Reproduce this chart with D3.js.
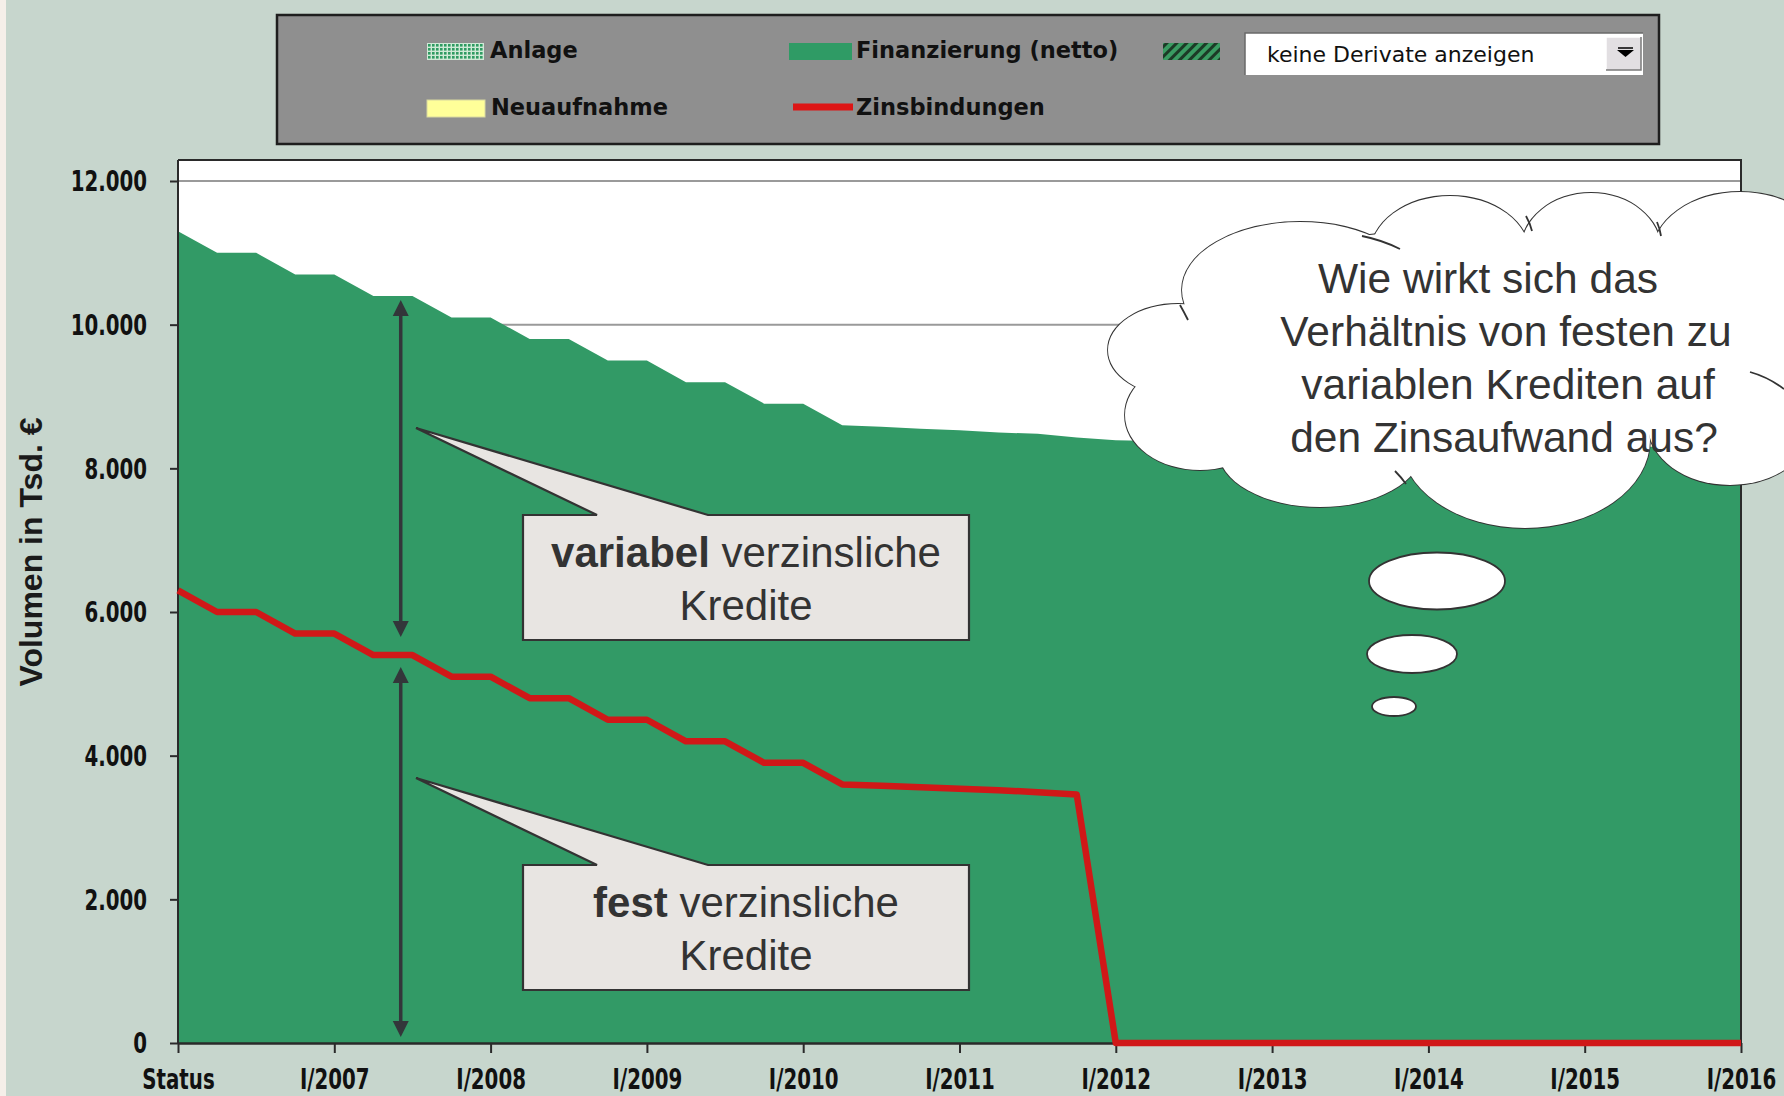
<!DOCTYPE html>
<html><head><meta charset="utf-8">
<script src="https://cdn.jsdelivr.net/npm/d3@7"></script>
<style>
html,body{margin:0;padding:0;background:#c7d6cd;}
svg{display:block;}
</style></head><body>
<svg id="chart" width="1784" height="1096"></svg>
<script>
// ---- data (quarterly, index 0 = Status, 4 = I/2007, ... 40 = I/2016) ----
const finanzierung = [11300, 11000, 11000, 10700, 10700, 10400, 10400, 10100, 10100, 9800,
  9800, 9500, 9500, 9200, 9200, 8900, 8900, 8600, 8580, 8550,
  8530, 8500, 8480, 8430, 8390, 8380, 8380, 8370, 8360, 8360,
  8350, 8340, 8340, 8330, 8320, 8320, 8310, 8300, 8300, 8290, 8280];
const zinsbindungen = [6300, 6000, 6000, 5700, 5700, 5400, 5400, 5100, 5100, 4800,
  4800, 4500, 4500, 4200, 4200, 3900, 3900, 3600, 3580, 3560,
  3540, 3520, 3490, 3460, 0, 0, 0, 0, 0, 0,
  0, 0, 0, 0, 0, 0, 0, 0, 0, 0, 0];
const xTickPositions = [0, 4, 8, 12, 16, 20, 24, 28, 32, 36, 40];
const xTickLabels = ["Status", "I/2007", "I/2008", "I/2009", "I/2010", "I/2011", "I/2012", "I/2013", "I/2014", "I/2015", "I/2016"];
const yTickValues = [0, 2000, 4000, 6000, 8000, 10000, 12000];
const legendRow1 = ["Anlage", "Finanzierung (netto)"];
const legendRow2 = ["Neuaufnahme", "Zinsbindungen"];
const dropdownText = "keine Derivate anzeigen";
const yTitle = "Volumen in Tsd. €";
const cloudLines = ["Wie wirkt sich das", "Verhältnis von festen zu", "variablen Krediten auf", "den Zinsaufwand aus?"];

const svg = d3.select("#chart");
const W = 1784, H = 1096;
const pL = 178, pR = 1741, pT = 160, yTopPx = 181, pB = 1043;

const x = d3.scaleLinear().domain([0, 40]).range([pL, pR]);
const y = d3.scaleLinear().domain([0, 12000]).range([pB, yTopPx]);
const de = d3.formatLocale({decimal: ",", thousands: ".", grouping: [3], currency: ["", "€"]});
const fmt = de.format(",.0f");

const narrow = "'DejaVu Sans Condensed','Liberation Sans Narrow',sans-serif";
const arial = "'Liberation Sans',Arial,Helvetica,sans-serif";
const dv = "'DejaVu Sans',Verdana,sans-serif";
const tickScaleY = 1.25;

// background bits
svg.append("rect").attr("x", 0).attr("y", 0).attr("width", W).attr("height", H).attr("fill", "#c7d6cd");
svg.append("rect").attr("x", 0).attr("y", 0).attr("width", 6).attr("height", H).attr("fill", "#f5efe9");

// defs: patterns
const defs = svg.append("defs");
const pd = defs.append("pattern").attr("id", "dots").attr("width", 4).attr("height", 4).attr("patternUnits", "userSpaceOnUse");
pd.append("rect").attr("width", 4).attr("height", 4).attr("fill", "#cfe9d6");
pd.append("rect").attr("width", 2.6).attr("height", 2.6).attr("fill", "#2f9b62");
const ph = defs.append("pattern").attr("id", "hatch").attr("width", 7).attr("height", 7)
  .attr("patternUnits", "userSpaceOnUse").attr("patternTransform", "rotate(45)");
ph.append("rect").attr("width", 7).attr("height", 7).attr("fill", "#3a9c62");
ph.append("rect").attr("width", 3).attr("height", 7).attr("fill", "#1c3a26");

// ---- legend box ----
const lg = svg.append("g");
lg.append("rect").attr("x", 277).attr("y", 15).attr("width", 1382).attr("height", 129)
  .attr("fill", "#8f8f8f").attr("stroke", "#1e1e1e").attr("stroke-width", 2.5);
function legText(t, lx, ly) {
  lg.append("text").attr("x", lx).attr("y", ly).text(t)
    .attr("font-family", dv).attr("font-size", 22.5)
    .attr("font-weight", "bold").attr("fill", "#111");
}
lg.append("rect").attr("x", 427).attr("y", 43).attr("width", 57).attr("height", 17).attr("fill", "url(#dots)");
legText(legendRow1[0], 490, 58);
lg.append("rect").attr("x", 789).attr("y", 43).attr("width", 63).attr("height", 17).attr("fill", "#2f9b65");
legText(legendRow1[1], 856, 58);
lg.append("rect").attr("x", 1163).attr("y", 43).attr("width", 57).attr("height", 17).attr("fill", "url(#hatch)");
lg.append("rect").attr("x", 427).attr("y", 100).attr("width", 58).attr("height", 17).attr("fill", "#ffff99")
  .attr("stroke", "#d8d8a0").attr("stroke-width", 1);
legText(legendRow2[0], 491, 115);
lg.append("line").attr("x1", 793).attr("x2", 853).attr("y1", 107).attr("y2", 107)
  .attr("stroke", "#dd1515").attr("stroke-width", 7);
legText(legendRow2[1], 856, 115);
// dropdown
lg.append("rect").attr("x", 1245).attr("y", 33).attr("width", 398).attr("height", 42).attr("fill", "#ffffff");
lg.append("path").attr("d", "M1245,75 L1245,33 L1643,33").attr("fill", "none").attr("stroke", "#6a6a6a").attr("stroke-width", 1.5);
lg.append("rect").attr("x", 1606).attr("y", 37).attr("width", 35).attr("height", 33).attr("fill", "#e2dfe2");
lg.append("path").attr("d", "M1606,70 L1606,37 L1641,37").attr("fill", "none").attr("stroke", "#ffffff").attr("stroke-width", 1.5);
lg.append("path").attr("d", "M1606,70 L1641,70 L1641,37").attr("fill", "none").attr("stroke", "#7a7a7a").attr("stroke-width", 1.5);
lg.append("path").attr("d", "M1617,50 L1634,50 L1625.5,57 Z").attr("fill", "#000");
lg.append("line").attr("x1", 1618).attr("x2", 1633).attr("y1", 48).attr("y2", 48).attr("stroke", "#000").attr("stroke-width", 1.5);
lg.append("text").attr("x", 1267).attr("y", 62).text(dropdownText)
  .attr("font-family", dv).attr("font-size", 22).attr("fill", "#111");

// ---- plot area ----
svg.append("rect").attr("x", pL).attr("y", pT).attr("width", pR - pL).attr("height", pB - pT).attr("fill", "#ffffff");
svg.append("g").selectAll("line").data(yTickValues.filter(v => v > 0)).join("line")
  .attr("x1", pL).attr("x2", pR).attr("y1", d => y(d)).attr("y2", d => y(d))
  .attr("stroke", "#9a9a9a").attr("stroke-width", 2);

const area = d3.area().x((d, i) => x(i)).y0(y(0)).y1(d => y(d));
svg.append("path").datum(finanzierung).attr("d", area).attr("fill", "#329a66");

// frame (top + right)
svg.append("path").attr("d", `M${pL},${pT} L${pR},${pT} L${pR},${pB}`)
  .attr("fill", "none").attr("stroke", "#2a2a2a").attr("stroke-width", 2);

// axes
const yAxis = svg.append("g").attr("transform", `translate(${pL},0)`)
  .call(d3.axisLeft(y).tickValues(yTickValues).tickFormat(fmt).tickSize(8).tickSizeOuter(0).tickPadding(23));
yAxis.select(".domain").remove();
yAxis.append("line").attr("x1", 0).attr("x2", 0).attr("y1", pT).attr("y2", pB).attr("stroke", "#2a2a2a").attr("stroke-width", 2);
yAxis.selectAll(".tick line").attr("stroke", "#2a2a2a").attr("stroke-width", 2);
yAxis.selectAll(".tick text").attr("dy", "0.36em").attr("transform", `scale(1,${tickScaleY})`)
  .attr("font-family", narrow).attr("font-size", 22).attr("font-weight", "bold").attr("fill", "#111");

const xAxis = svg.append("g").attr("transform", `translate(0,${pB})`)
  .call(d3.axisBottom(x).tickValues(xTickPositions).tickFormat((d, i) => xTickLabels[i]).tickSize(10).tickSizeOuter(0));
xAxis.select(".domain").attr("stroke", "#2a2a2a").attr("stroke-width", 2.5);
xAxis.selectAll(".tick line").attr("stroke", "#2a2a2a").attr("stroke-width", 2);
xAxis.selectAll(".tick text").attr("y", 46 / tickScaleY).attr("dy", 0).attr("transform", `scale(1,${tickScaleY})`)
  .attr("font-family", narrow).attr("font-size", 22).attr("font-weight", "bold").attr("fill", "#111");

// red line
const line = d3.line().x((d, i) => x(i)).y(d => y(d));
svg.append("path").datum(zinsbindungen).attr("d", line).attr("fill", "none")
  .attr("stroke", "#d01818").attr("stroke-width", 6.5).attr("stroke-linejoin", "round");

// y title
svg.append("text").attr("transform", "translate(42,552) rotate(-90)").attr("text-anchor", "middle")
  .attr("font-family", arial).attr("font-size", 32).attr("font-weight", "bold").attr("fill", "#1a1a1a").text(yTitle);

// ---- double arrows ----
const arrowT = 5.7;
const ax = x(arrowT);
function arrow(y1, y2) {
  const g = svg.append("g").attr("fill", "#33363a");
  const hl = 16, hw = 8;
  g.append("line").attr("x1", ax).attr("x2", ax).attr("y1", y1 + hl - 2).attr("y2", y2 - hl + 2)
    .attr("stroke", "#33363a").attr("stroke-width", 3.5);
  g.append("path").attr("d", `M${ax},${y1} L${ax + hw},${y1 + hl} L${ax - hw},${y1 + hl} Z`);
  g.append("path").attr("d", `M${ax},${y2} L${ax + hw},${y2 - hl} L${ax - hw},${y2 - hl} Z`);
}
arrow(y(finanzierung[6]) + 4, y(zinsbindungen[6]) - 18);
arrow(y(zinsbindungen[6]) + 12, y(0) - 6);

// ---- callouts ----
function callout(dy, boldWord) {
  const bx0 = 523, bx1 = 969, by0 = 515 + dy, by1 = 640 + dy;
  const tipX = 416, tipY = 428 + dy;
  svg.append("path").attr("d",
    `M${bx0},${by0} L597,${by0} L${tipX},${tipY} L708,${by0} L${bx1},${by0} L${bx1},${by1} L${bx0},${by1} Z`)
    .attr("fill", "#e8e5e2").attr("stroke", "#333").attr("stroke-width", 2.2).attr("stroke-linejoin", "miter");
  const t = svg.append("text").attr("x", (bx0 + bx1) / 2).attr("y", 567 + dy).attr("text-anchor", "middle")
    .attr("font-family", arial).attr("font-size", 42).attr("fill", "#333");
  t.append("tspan").attr("font-weight", "bold").text(boldWord);
  t.append("tspan").text(" verzinsliche");
  svg.append("text").attr("x", (bx0 + bx1) / 2).attr("y", 620 + dy).attr("text-anchor", "middle")
    .attr("font-family", arial).attr("font-size", 42).attr("fill", "#333").text("Kredite");
}
callout(0, "variabel");
callout(350, "fest");

// ---- cloud ----
const cloudEllipses = [
  [1178, 350, 70, 46], [1300, 290, 118, 68], [1450, 255, 80, 59], [1591, 250, 70, 57],
  [1740, 255, 88, 63], [1770, 340, 50, 55], [1730, 425, 82, 60], [1525, 440, 125, 88],
  [1320, 450, 102, 57], [1200, 415, 75, 55], [1450, 350, 280, 120], [1700, 330, 80, 50]
];
const cg = svg.append("g");
cg.selectAll("ellipse.s").data(cloudEllipses).join("ellipse").attr("class", "s")
  .attr("cx", d => d[0]).attr("cy", d => d[1]).attr("rx", d => d[2]).attr("ry", d => d[3])
  .attr("fill", "none").attr("stroke", "#333").attr("stroke-width", 1.8);
cg.selectAll("ellipse.f").data(cloudEllipses).join("ellipse").attr("class", "f")
  .attr("cx", d => d[0]).attr("cy", d => d[1]).attr("rx", d => d[2]).attr("ry", d => d[3])
  .attr("fill", "#ffffff");
// short inner arcs typical of the cloud shape
const innerArcs = [
  "M1750,372 Q1768,377 1784,389",
  "M1362,236 Q1382,240 1400,249",
  "M1180,305 Q1184,312 1188,320",
  "M1526,216 Q1530,223 1532,231",
  "M1657,222 Q1660,229 1661,236",
  "M1406,484 Q1401,477 1395,471"
];
cg.selectAll("path.ia").data(innerArcs).join("path").attr("class", "ia").attr("d", d => d)
  .attr("fill", "none").attr("stroke", "#333").attr("stroke-width", 1.8);
const bubbles = [[1437, 581, 68, 28.5], [1412, 654, 45, 19], [1394, 706.5, 22, 9.5]];
cg.selectAll("ellipse.b").data(bubbles).join("ellipse").attr("class", "b")
  .attr("cx", d => d[0]).attr("cy", d => d[1]).attr("rx", d => d[2]).attr("ry", d => d[3])
  .attr("fill", "#ffffff").attr("stroke", "#333").attr("stroke-width", 1.8);
const cloudX = [1488, 1506, 1508, 1504];
cg.selectAll("text").data(cloudLines).join("text")
  .attr("x", (d, i) => cloudX[i]).attr("y", (d, i) => 293 + i * 53)
  .attr("text-anchor", "middle").attr("font-family", arial).attr("font-size", 42.5).attr("fill", "#333")
  .text(d => d);
</script>
</body></html>
